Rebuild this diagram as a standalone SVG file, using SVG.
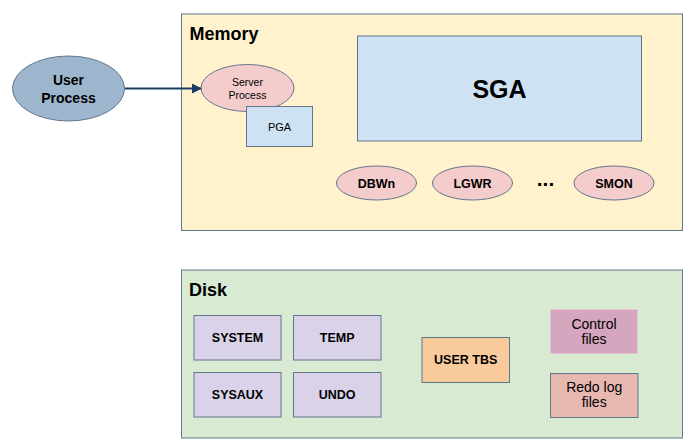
<svg xmlns="http://www.w3.org/2000/svg" width="689" height="444" viewBox="0 0 689 444">
<style>
text{font-family:"Liberation Sans",Arial,sans-serif;fill:#000;text-anchor:middle}
.b{font-weight:bold}
.title{font-size:18px;font-weight:bold;text-anchor:start}
.lbl{font-size:12.5px;font-weight:bold}
.ln{stroke:#61778c;stroke-width:1}
.purple{fill:#d9d2e9}
</style>
<defs>
<marker id="ah" markerWidth="10" markerHeight="10" refX="9" refY="5" orient="auto" markerUnits="userSpaceOnUse">
<path d="M0,0 L10,5 L0,10 z" fill="#1c3d63"/>
</marker>
</defs>
<rect width="689" height="444" fill="#fff"/>
<g id="memory">
<rect class="ln" x="181.5" y="14" width="501" height="216.5" fill="#fff2cc"/>
<text class="title" x="189.5" y="40">Memory</text>
</g>
<g id="disk">
<rect class="ln" x="181.5" y="270" width="501" height="168" fill="#d9ead3"/>
<text class="title" x="189" y="296">Disk</text>
</g>
<g id="user-process">
<ellipse class="ln" cx="68.5" cy="88.5" rx="56" ry="32.5" fill="#9eb6cd"/>
<text class="b" x="68.5" y="85" font-size="14">User</text>
<text class="b" x="68.5" y="103" font-size="14">Process</text>
</g>
<g id="server-process">
<ellipse class="ln" cx="247.5" cy="88" rx="46.5" ry="23.5" fill="#f4cccc"/>
<text x="247.5" y="86" font-size="10.5">Server</text>
<text x="247.5" y="99" font-size="10.5">Process</text>
</g>
<g id="pga">
<rect class="ln" x="246.5" y="106.5" width="66" height="40" fill="#cfe2f3"/>
<text x="279.5" y="130.5" font-size="11">PGA</text>
</g>
<g id="sga">
<rect class="ln" x="357.5" y="36" width="284" height="105" fill="#cfe2f3"/>
<text class="b" x="499.5" y="97.5" font-size="25">SGA</text>
</g>
<g id="dbwn">
<ellipse class="ln" cx="376.5" cy="183" rx="40" ry="17" fill="#f4cccc"/>
<text class="lbl" x="376.5" y="188">DBWn</text>
</g>
<g id="lgwr">
<ellipse class="ln" cx="472.5" cy="183" rx="40" ry="17" fill="#f4cccc"/>
<text class="lbl" x="472.5" y="188">LGWR</text>
</g>
<g id="ellipsis">
<text class="b" x="545.5" y="186" font-size="21">...</text>
</g>
<g id="smon">
<ellipse class="ln" cx="614" cy="183" rx="40" ry="17" fill="#f4cccc"/>
<text class="lbl" x="614" y="188">SMON</text>
</g>
<g id="system">
<rect class="ln purple" x="194" y="315.5" width="87" height="44.5"/>
<text class="lbl" x="237.5" y="341.5">SYSTEM</text>
</g>
<g id="temp">
<rect class="ln purple" x="293.5" y="315.5" width="87.5" height="44.5"/>
<text class="lbl" x="337.2" y="341.5">TEMP</text>
</g>
<g id="sysaux">
<rect class="ln purple" x="194" y="372.5" width="87" height="44.5"/>
<text class="lbl" x="237.5" y="399">SYSAUX</text>
</g>
<g id="undo">
<rect class="ln purple" x="293.5" y="372.5" width="87.5" height="44.5"/>
<text class="lbl" x="337.2" y="399">UNDO</text>
</g>
<g id="user-tbs">
<rect class="ln" x="422" y="337.5" width="87.5" height="45" fill="#f9cb9c"/>
<text class="lbl" x="465.7" y="364">USER TBS</text>
</g>
<g id="control-files">
<rect x="550.5" y="309.5" width="87" height="44" fill="#d5a6bd" stroke="#e3c7d4" stroke-width="1"/>
<text x="594" y="329" font-size="14">Control</text>
<text x="594" y="344" font-size="14">files</text>
</g>
<g id="redo-log-files">
<rect class="ln" x="550.5" y="373.5" width="87.5" height="44" fill="#e6b8af"/>
<text x="594.2" y="392" font-size="14">Redo log</text>
<text x="594.2" y="407" font-size="14">files</text>
</g>
<g id="connectors">
<line x1="125" y1="88.5" x2="201" y2="88.5" stroke="#1c3d63" stroke-width="2" marker-end="url(#ah)"/>
</g>
</svg>
